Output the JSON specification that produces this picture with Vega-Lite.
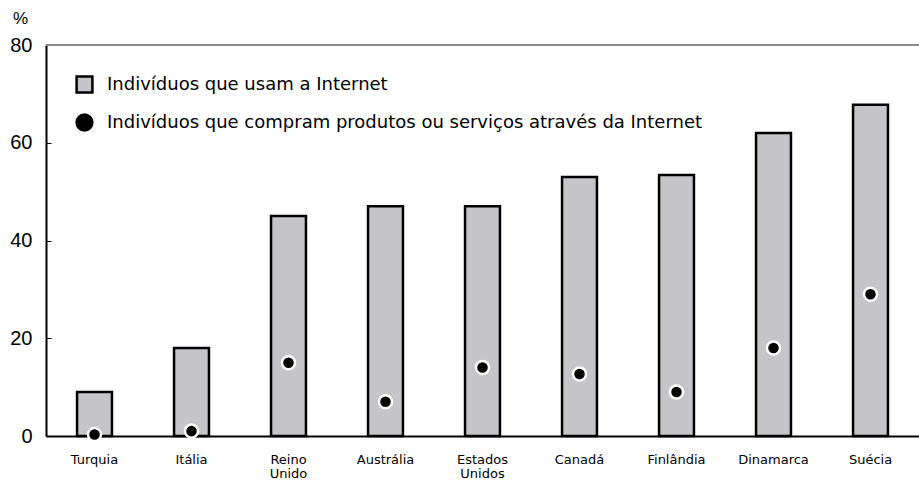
{
  "$schema": "https://vega.github.io/schema/vega-lite/v6.json",
  "width": 873,
  "height": 391,
  "autosize": "none",
  "padding": {"left": 46, "top": 45, "right": 0, "bottom": 44},
  "background": "white",
  "config": {
    "view": {"stroke": null},
    "font": "Liberation Sans",
    "axis": {"grid": false, "labelColor": "black", "domainColor": "black"}
  },
  "data": {
    "values": [
      {"pais": "Turquia", "serie": "Indivíduos que usam a Internet", "valor": 9},
      {"pais": "Itália", "serie": "Indivíduos que usam a Internet", "valor": 18},
      {"pais": "Reino Unido", "serie": "Indivíduos que usam a Internet", "valor": 45},
      {"pais": "Austrália", "serie": "Indivíduos que usam a Internet", "valor": 47},
      {"pais": "Estados Unidos", "serie": "Indivíduos que usam a Internet", "valor": 47},
      {"pais": "Canadá", "serie": "Indivíduos que usam a Internet", "valor": 53},
      {"pais": "Finlândia", "serie": "Indivíduos que usam a Internet", "valor": 53.4},
      {"pais": "Dinamarca", "serie": "Indivíduos que usam a Internet", "valor": 62},
      {"pais": "Suécia", "serie": "Indivíduos que usam a Internet", "valor": 67.8},
      {"pais": "Turquia", "serie": "Indivíduos que compram produtos ou serviços através da Internet", "valor": 0.3},
      {"pais": "Itália", "serie": "Indivíduos que compram produtos ou serviços através da Internet", "valor": 1},
      {"pais": "Reino Unido", "serie": "Indivíduos que compram produtos ou serviços através da Internet", "valor": 15},
      {"pais": "Austrália", "serie": "Indivíduos que compram produtos ou serviços através da Internet", "valor": 7},
      {"pais": "Estados Unidos", "serie": "Indivíduos que compram produtos ou serviços através da Internet", "valor": 14},
      {"pais": "Canadá", "serie": "Indivíduos que compram produtos ou serviços através da Internet", "valor": 12.7},
      {"pais": "Finlândia", "serie": "Indivíduos que compram produtos ou serviços através da Internet", "valor": 9},
      {"pais": "Dinamarca", "serie": "Indivíduos que compram produtos ou serviços através da Internet", "valor": 18},
      {"pais": "Suécia", "serie": "Indivíduos que compram produtos ou serviços através da Internet", "valor": 29}
    ]
  },
  "encoding": {
    "x": {
      "field": "pais",
      "type": "nominal",
      "sort": null,
      "scale": {"paddingInner": 0.64, "paddingOuter": 0.32},
      "axis": {
        "title": null,
        "labelAngle": 0,
        "ticks": false,
        "domainWidth": 2,
        "labelFont": "DejaVu Sans",
        "labelFontSize": 13,
        "labelPadding": 17,
        "labelLineHeight": 14,
        "labelBaseline": "top",
        "labelExpr": "split(datum.value, ' ')"
      }
    },
    "y": {
      "field": "valor",
      "type": "quantitative",
      "scale": {"domain": [0, 80], "nice": false},
      "axis": {
        "values": [0, 20, 40, 60, 80],
        "title": "%",
        "titleAngle": 0,
        "titleFontSize": 17,
        "titleFontWeight": "normal",
        "titleFont": "Liberation Sans",
        "titleAlign": "center",
        "titleBaseline": "middle",
        "titleX": -26,
        "titleY": -27,
        "labelFont": "Liberation Sans",
        "labelFontSize": 20,
        "labelPadding": 19,
        "tickSize": -5,
        "tickColor": "black",
        "domainWidth": 2
      }
    },
    "color": {
      "field": "serie",
      "type": "nominal",
      "scale": {
        "domain": ["Indivíduos que usam a Internet", "Indivíduos que compram produtos ou serviços através da Internet"],
        "range": ["#c5c4c9", "black"]
      },
      "legend": {
        "title": null,
        "orient": "none",
        "legendX": 29,
        "legendY": 30,
        "labelFontSize": 18,
        "labelFont": "DejaVu Sans",
        "labelColor": "black",
        "symbolSize": 250,
        "symbolStrokeWidth": 2.5,
        "symbolOpacity": 1,
        "rowPadding": 11,
        "labelOffset": 13,
        "labelLimit": 800
      }
    },
    "stroke": {
      "field": "serie",
      "type": "nominal",
      "scale": {
        "domain": ["Indivíduos que usam a Internet", "Indivíduos que compram produtos ou serviços através da Internet"],
        "range": ["black", "black"]
      },
      "legend": {
        "title": null,
        "orient": "none",
        "legendX": 29,
        "legendY": 30,
        "labelFontSize": 18,
        "labelFont": "DejaVu Sans",
        "labelColor": "black",
        "symbolSize": 250,
        "symbolStrokeWidth": 2.5,
        "symbolOpacity": 1,
        "rowPadding": 11,
        "labelOffset": 13,
        "labelLimit": 800
      }
    },
    "shape": {
      "field": "serie",
      "type": "nominal",
      "scale": {
        "domain": ["Indivíduos que usam a Internet", "Indivíduos que compram produtos ou serviços através da Internet"],
        "range": ["square", "circle"]
      },
      "legend": {
        "title": null,
        "orient": "none",
        "legendX": 29,
        "legendY": 30,
        "labelFontSize": 18,
        "labelFont": "DejaVu Sans",
        "labelColor": "black",
        "symbolSize": 250,
        "symbolStrokeWidth": 2.5,
        "symbolOpacity": 1,
        "rowPadding": 11,
        "labelOffset": 13,
        "labelLimit": 800
      }
    }
  },
  "layer": [
    {
      "mark": {"type": "rule", "color": "#8a8a8a", "strokeWidth": 2},
      "encoding": {"y": {"datum": 80}, "color": {"value": "#8a8a8a"}, "stroke": {"value": "#8a8a8a"}, "shape": null, "x": null}
    },
    {
      "transform": [{"filter": "datum.serie === 'Indivíduos que usam a Internet'"}],
      "mark": {"type": "bar", "strokeWidth": 2.5, "opacity": 1}
    },
    {
      "transform": [{"filter": "datum.serie !== 'Indivíduos que usam a Internet'"}],
      "mark": {"type": "point", "filled": true, "size": 170, "strokeWidth": 2.5, "opacity": 1},
      "encoding": {"stroke": {"value": "white"}}
    }
  ]
}
